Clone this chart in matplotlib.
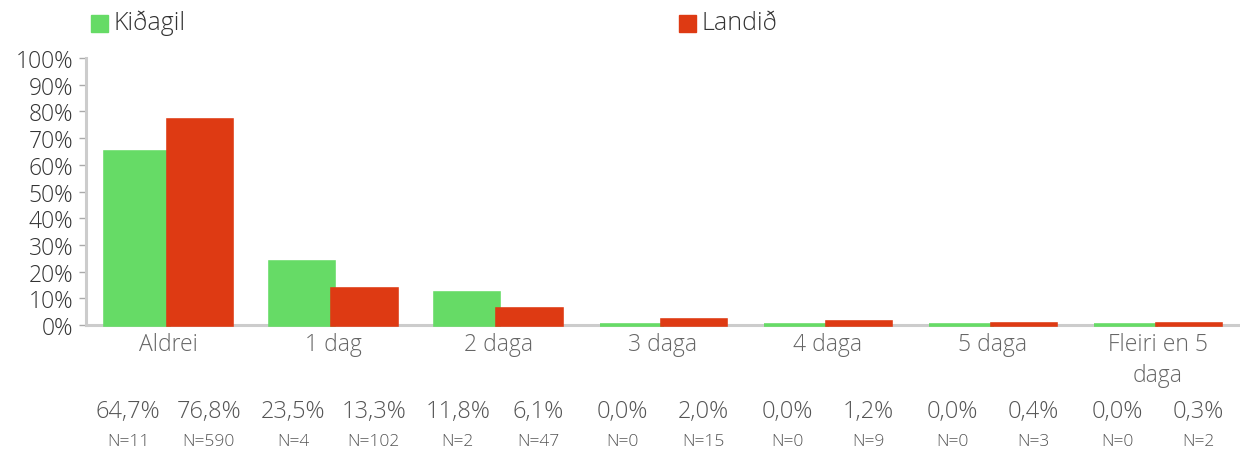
import matplotlib
matplotlib.use("Agg")
import matplotlib.pyplot as plt
import matplotlib.transforms as mtransforms
import numpy as np

categories = ["Aldrei", "1 dag", "2 daga", "3 daga", "4 daga", "5 daga", "Fleiri en 5\ndaga"]
series_names = ["Kiðagil", "Landið"]
kidagil = [64.7, 23.5, 11.8, 0.0, 0.0, 0.0, 0.0]
landid = [76.8, 13.3, 6.1, 2.0, 1.2, 0.4, 0.3]
kidagil_n = [11, 4, 2, 0, 0, 0, 0]
landid_n = [590, 102, 47, 15, 9, 3, 2]
yticks = [0, 10, 20, 30, 40, 50, 60, 70, 80, 90, 100]

green = "#66DB66"
red = "#DE3A13"

plt.rcParams['font.family'] = ['Open Sans', 'DejaVu Sans']
plt.rcParams['font.weight'] = 'light'

fig = plt.figure(figsize=(12.4, 4.52), dpi=100)
W, H = 1240, 452
ax = fig.add_axes([86 / W, 1 - 326 / H, (1240 - 86) / W, (326 - 59) / H])

x = np.arange(len(categories))
bw = 0.39
for xs, vals, col in [(x - 0.19, kidagil, green), (x + 0.19, landid, red)]:
    bars = ax.bar(xs, vals, width=bw, color=col, edgecolor=col, linewidth=2.6, zorder=4)
    for b in bars:
        b.set_clip_on(False)

ax.set_xlim(-0.5, len(categories) - 0.5)
ax.set_ylim(0, 100)
ax.set_yticks(yticks)
ax.set_yticklabels([f"{v}%" for v in yticks], fontsize=16.5, color="#333333")
ax.set_xticks(x)
ax.set_xticklabels(categories, fontsize=16.5, color="#666666", linespacing=1.4)
ax.tick_params(axis='x', length=0, pad=5)
ax.tick_params(axis='y', length=5, width=1, color="#aaaaaa", pad=4)

for s in ["top", "right"]:
    ax.spines[s].set_visible(False)
ax.spines["left"].set_color("#cccccc")
ax.spines["left"].set_linewidth(2.2)
ax.spines["bottom"].set_color("#cccccc")
ax.spines["bottom"].set_linewidth(2.2)
ax.spines["bottom"].set_zorder(3)

trans = mtransforms.blended_transform_factory(ax.transData, fig.transFigure)
for i in range(len(categories)):
    for off, v, n in [(-0.245, kidagil[i], kidagil_n[i]), (0.245, landid[i], landid_n[i])]:
        fig.text(i + off, 1 - 412 / H, f"{v:.1f}%".replace(".", ","), transform=trans,
                 ha="center", va="center", fontsize=17, color="#555555")
        fig.text(i + off, 1 - 442 / H, f"N={n}", transform=trans,
                 ha="center", va="center", fontsize=12.5, color="#555555")

# legend
for xpos, name, col in [(91, series_names[0], green), (679, series_names[1], red)]:
    fig.patches.append(plt.Rectangle((xpos / W, 1 - 33 / H), 17 / W, 17 / H,
                                     transform=fig.transFigure, color=col, figure=fig))
    fig.text((xpos + 22) / W, 1 - 23 / H, name, ha="left", va="center",
             fontsize=18, color="#333333")

fig.savefig("out.png", dpi=100)
